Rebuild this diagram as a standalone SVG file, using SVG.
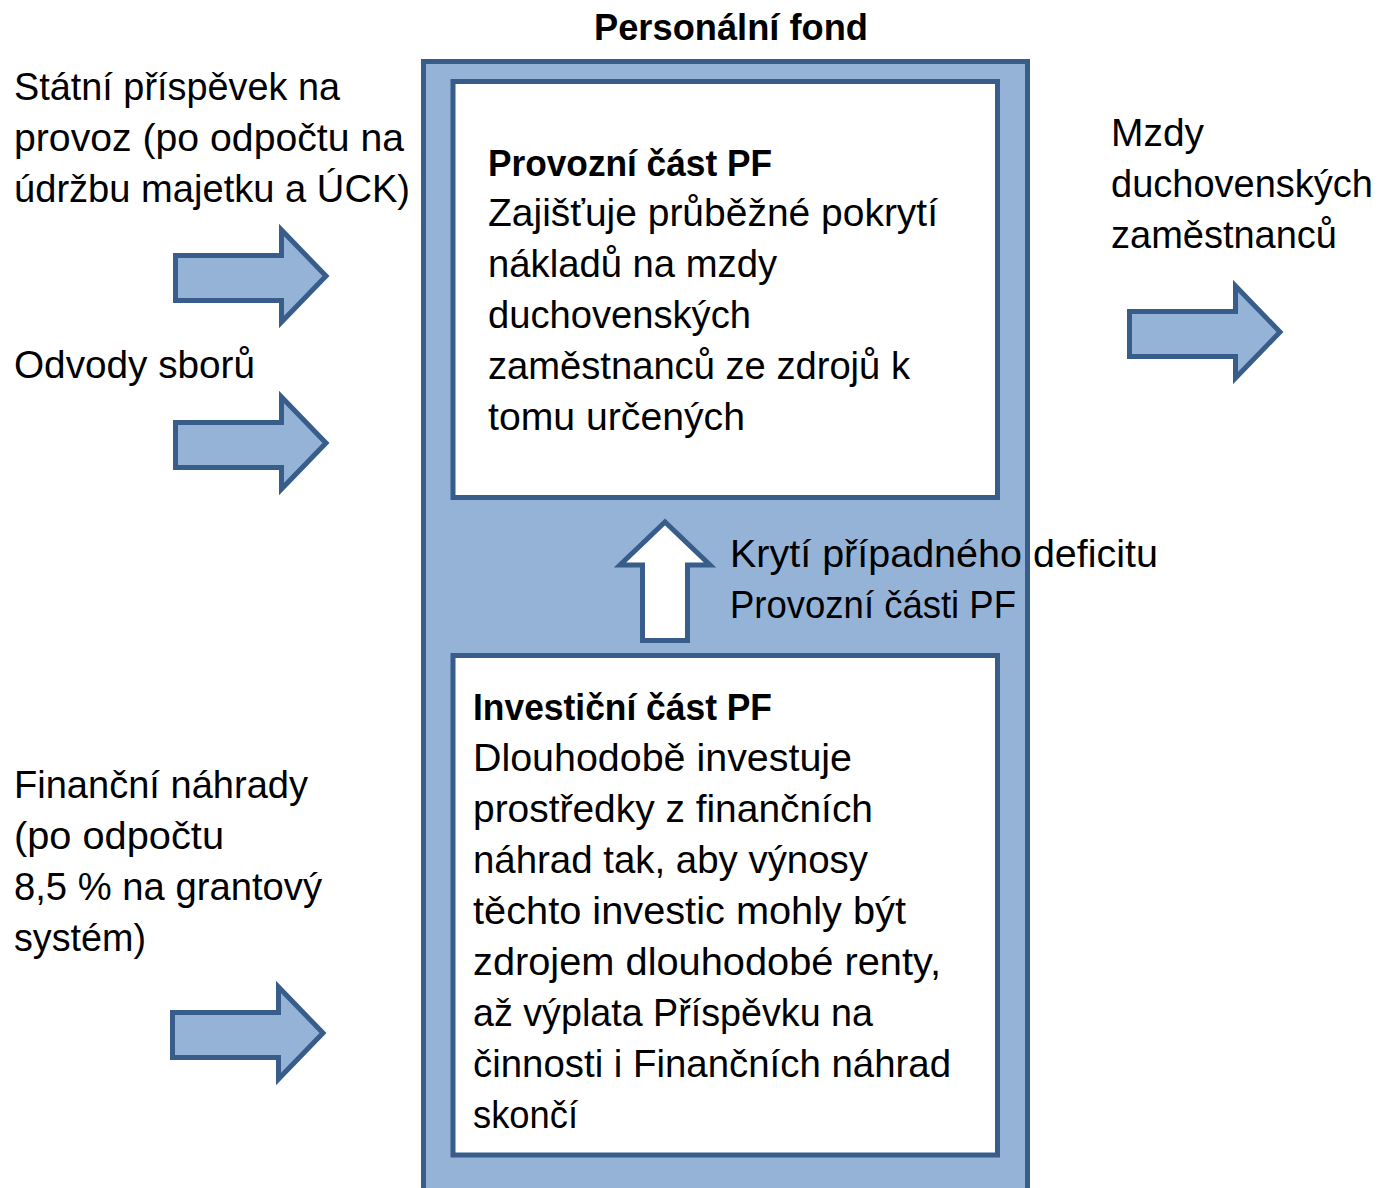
<svg xmlns="http://www.w3.org/2000/svg" xmlns:xlink="http://www.w3.org/1999/xlink" width="1378" height="1188" viewBox="0 0 1378 1188">
<style>
  text { lengthAdjust: spacingAndGlyphs; }
  .t { font-family: "Liberation Sans", Arial, sans-serif; font-size: 38.5px; fill: #000; }
  .b { font-family: "Liberation Sans", Arial, sans-serif; font-size: 36px; font-weight: bold; fill: #000; }
  .fund { fill: #95B3D7; stroke: #385D8A; stroke-width: 5; }
  .box { fill: #FFFFFF; stroke: #385D8A; stroke-width: 5; }
  .arr { fill: #95B3D7; stroke: #385D8A; stroke-width: 5; stroke-linejoin: miter; }
  .up { fill: #FFFFFF; stroke: #385D8A; stroke-width: 5; stroke-linejoin: miter; }
</style>
<defs>
  <path id="rarrow" d="M2.5,30.5 H108.5 V5 L153,51 L108.5,97 V75.5 H2.5 Z"/>
</defs>
<rect width="1378" height="1188" fill="#FFFFFF"/>

<g id="personalni-fond">
  <rect class="fund" x="423.5" y="61.5" width="604" height="1150"/>
  <text class="b" x="594" y="40" textLength="274" lengthAdjust="spacingAndGlyphs">Personální fond</text>
</g>

<g id="provozni-cast">
  <rect class="box" x="453" y="81.5" width="544.5" height="416"/>
  <text class="b" x="488" y="176" textLength="284" lengthAdjust="spacingAndGlyphs">Provozní část PF</text>
  <text class="t" x="488" y="226" textLength="450" lengthAdjust="spacingAndGlyphs">Zajišťuje průběžné pokrytí</text>
  <text class="t" x="488" y="277" textLength="289" lengthAdjust="spacingAndGlyphs">nákladů na mzdy</text>
  <text class="t" x="488" y="328" textLength="263" lengthAdjust="spacingAndGlyphs">duchovenských</text>
  <text class="t" x="488" y="379" textLength="422" lengthAdjust="spacingAndGlyphs">zaměstnanců ze zdrojů k</text>
  <text class="t" x="488" y="430" textLength="257" lengthAdjust="spacingAndGlyphs">tomu určených</text>
</g>

<g id="investicni-cast">
  <rect class="box" x="453" y="655.5" width="544.5" height="499.5"/>
  <text class="b" x="473" y="720" textLength="299" lengthAdjust="spacingAndGlyphs">Investiční část PF</text>
  <text class="t" x="473" y="771" textLength="379" lengthAdjust="spacingAndGlyphs">Dlouhodobě investuje</text>
  <text class="t" x="473" y="822" textLength="400" lengthAdjust="spacingAndGlyphs">prostředky z finančních</text>
  <text class="t" x="473" y="873" textLength="395" lengthAdjust="spacingAndGlyphs">náhrad tak, aby výnosy</text>
  <text class="t" x="473" y="924" textLength="433" lengthAdjust="spacingAndGlyphs">těchto investic mohly být</text>
  <text class="t" x="473" y="975" textLength="468" lengthAdjust="spacingAndGlyphs">zdrojem dlouhodobé renty,</text>
  <text class="t" x="473" y="1026" textLength="400" lengthAdjust="spacingAndGlyphs">až výplata Příspěvku na</text>
  <text class="t" x="473" y="1077" textLength="478" lengthAdjust="spacingAndGlyphs">činnosti i Finančních náhrad</text>
  <text class="t" x="473" y="1128" textLength="105" lengthAdjust="spacingAndGlyphs">skončí</text>
</g>

<g id="statni-prispevek">
  <text class="t" x="14" y="100" textLength="326" lengthAdjust="spacingAndGlyphs">Státní příspěvek na</text>
  <text class="t" x="14" y="151" textLength="390" lengthAdjust="spacingAndGlyphs">provoz (po odpočtu na</text>
  <text class="t" x="14" y="202" textLength="396" lengthAdjust="spacingAndGlyphs">údržbu majetku a ÚCK)</text>
</g>

<g id="odvody-sboru">
  <text class="t" x="14" y="378" textLength="241" lengthAdjust="spacingAndGlyphs">Odvody sborů</text>
</g>

<g id="financni-nahrady">
  <text class="t" x="14" y="798" textLength="294" lengthAdjust="spacingAndGlyphs">Finanční náhrady</text>
  <text class="t" x="14" y="849" textLength="210" lengthAdjust="spacingAndGlyphs">(po odpočtu</text>
  <text class="t" x="14" y="900" textLength="308" lengthAdjust="spacingAndGlyphs">8,5 % na grantový</text>
  <text class="t" x="14" y="951" textLength="132" lengthAdjust="spacingAndGlyphs">systém)</text>
</g>

<g id="mzdy">
  <text class="t" x="1111" y="146" textLength="93" lengthAdjust="spacingAndGlyphs">Mzdy</text>
  <text class="t" x="1111" y="197" textLength="262" lengthAdjust="spacingAndGlyphs">duchovenských</text>
  <text class="t" x="1111" y="248" textLength="226" lengthAdjust="spacingAndGlyphs">zaměstnanců</text>
</g>

<g id="kryti-deficitu">
  <text class="t" x="730" y="567" textLength="428" lengthAdjust="spacingAndGlyphs">Krytí případného deficitu</text>
  <text class="t" x="730" y="618" textLength="286" lengthAdjust="spacingAndGlyphs">Provozní části PF</text>
</g>

<g id="connectors">
  <use xlink:href="#rarrow" class="arr" transform="translate(173,225)"/>
  <use xlink:href="#rarrow" class="arr" transform="translate(173,392)"/>
  <use xlink:href="#rarrow" class="arr" transform="translate(170,982)"/>
  <use xlink:href="#rarrow" class="arr" transform="translate(1127,281)"/>
  <path class="up" d="M642.5,640.5 V565 H620 L665,522 L710,565 H687.5 V640.5 Z"/>
</g>
</svg>
